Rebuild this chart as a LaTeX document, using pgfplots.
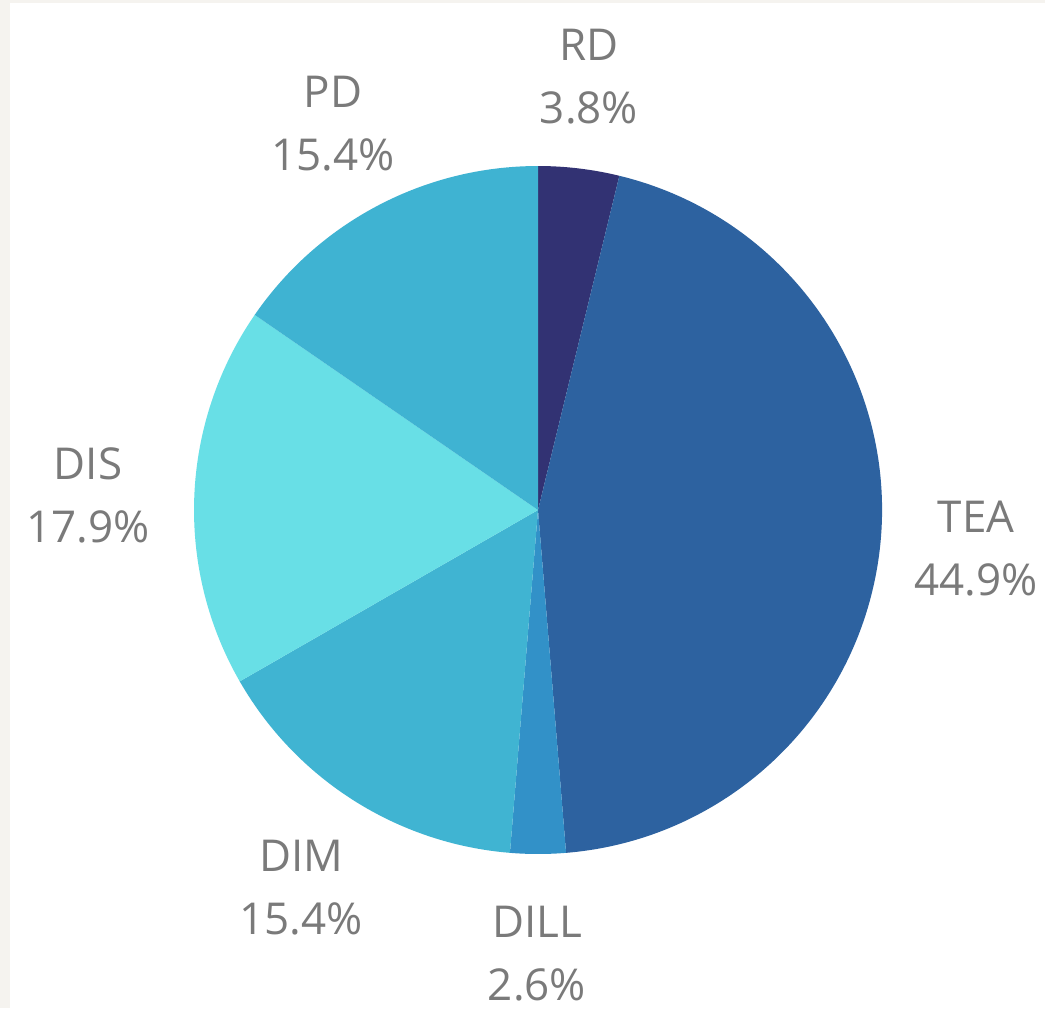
\documentclass[border=0pt]{standalone}
\usepackage{pgfplots}
\usepackage{pgfplotstable}
\pgfplotsset{compat=1.18}
\usepackage{fontspec}
\setmainfont{Open Sans}
\definecolor{cRD}{RGB}{50,50,115}
\definecolor{cTEA}{RGB}{45,98,160}
\definecolor{cDILL}{RGB}{50,145,200}
\definecolor{cDIM}{RGB}{64,180,210}
\definecolor{cDIS}{RGB}{104,223,230}
\definecolor{cPD}{RGB}{63,179,210}
\definecolor{lbl}{RGB}{122,122,122}
\definecolor{edge}{RGB}{245,243,239}

% slices clockwise from 12 o'clock; label centres in pixel coordinates (origin top-left)
\pgfplotstableread[col sep=comma]{
label,value,color,lx,ly
RD,3.8,cRD,589,77
TEA,44.9,cTEA,976,549
DILL,2.6,cDILL,537,954
DIM,15.4,cDIM,301,888
DIS,17.9,cDIS,88,495
PD,15.4,cPD,333,124
}\piedata

\begin{document}
\begin{tikzpicture}
\begin{axis}[
  x=0.1mm, y=0.1mm,
  xmin=0, xmax=1045, ymin=0, ymax=1008,
  hide axis, clip=false, scale only axis,
]
\fill[white] (axis cs:0,0) rectangle (axis cs:1045,1008);
\fill[edge] (axis cs:0,0) rectangle (axis cs:10,1008);
\fill[edge] (axis cs:0,1005) rectangle (axis cs:1045,1008);
\pgfmathsetmacro\cum{0}
\pgfplotstablegetrowsof{\piedata}
\pgfmathtruncatemacro\nrows{\pgfplotsretval-1}
\pgfplotsforeachungrouped \i in {0,...,\nrows}{%
  \pgfplotstablegetelem{\i}{value}\of\piedata \let\val\pgfplotsretval
  \pgfplotstablegetelem{\i}{color}\of\piedata \let\col\pgfplotsretval
  \pgfplotstablegetelem{\i}{label}\of\piedata \let\lab\pgfplotsretval
  \pgfplotstablegetelem{\i}{lx}\of\piedata \let\lx\pgfplotsretval
  \pgfplotstablegetelem{\i}{ly}\of\piedata \let\ly\pgfplotsretval
  \pgfmathsetmacro\sa{90-3.6*\cum}
  \pgfmathsetmacro\ea{90-3.6*(\cum+\val)}
  \pgfmathsetmacro\lyy{1008-\ly}
  \edef\temp{%
    \noexpand\fill[\col] (axis cs:538,498) -- ++(\sa:3.44cm)
      arc[start angle=\sa, end angle=\ea, radius=3.44cm] -- cycle;
    \noexpand\node[text=lbl, align=center, inner sep=0pt,
      font=\noexpand\fontsize{12.5pt}{17.9pt}\noexpand\selectfont]
      at (axis cs:\lx,\lyy) {\lab\noexpand\\\val\noexpand\%};
  }%
  \temp
  \pgfmathsetmacro\cum{\cum+\val}%
}
\end{axis}
\end{tikzpicture}
\end{document}
